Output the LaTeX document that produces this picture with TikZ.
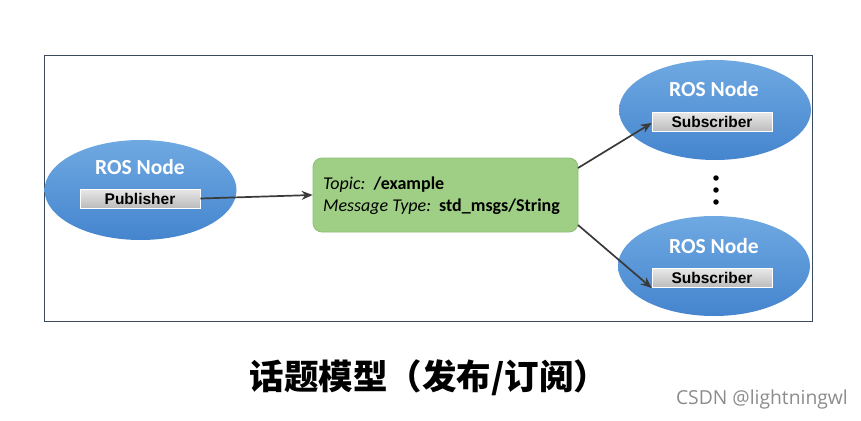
\documentclass[tikz,border=0pt]{standalone}
\usepackage{fontspec}
\setmainfont{Carlito}
\newfontfamily\arialf{Liberation Sans}
\newfontfamily\cjkf{Noto Sans CJK SC}
\newfontfamily\wmf{Open Sans}
\usetikzlibrary{shapes.geometric,arrows.meta,shadings}
\definecolor{frameC}{HTML}{3B4A5C}
\definecolor{ellTop}{HTML}{6FA9E2}
\definecolor{ellBot}{HTML}{4585CE}
\definecolor{greenF}{HTML}{9FCF85}
\definecolor{greenD}{HTML}{8DBE72}
\definecolor{boxT}{HTML}{E8E8E8}
\definecolor{boxB}{HTML}{BBBBBB}
\definecolor{arrC}{HTML}{3A3A3A}
\tikzset{
  rosnode/.style={ellipse, minimum width=192pt, minimum height=100pt, top color=ellTop, bottom color=ellBot, draw=none, inner sep=0pt},
  roslabel/.style={font=\fontsize{21.5}{21.5}\selectfont\bfseries, text=white, inner sep=0pt},
  rolebox/.style={minimum width=120pt, minimum height=19pt, top color=boxT, bottom color=boxB, draw=white, line width=0.6pt, font=\arialf\fontsize{15.5}{15.5}\selectfont\bfseries, inner sep=0pt},
  topicbox/.style={rounded corners=9pt, minimum width=265pt, minimum height=74pt, fill=greenF, draw=greenD, line width=0.8pt},
  topictext/.style={anchor=west, inner sep=0pt, font=\fontsize{18}{18}\selectfont},
  conn/.style={draw=arrC, line width=1.7pt, -{Stealth[length=11pt,width=9pt]}},
  dotc/.style={circle, fill=black, inner sep=0pt, minimum size=5.5pt}
}
\begin{document}
\begin{tikzpicture}[x=1pt,y=-1pt]
\useasboundingbox (0,0) rectangle (861,420);
\fill[white] (0,0) rectangle (861,420);
\draw[frameC, line width=1pt] (44,56) rectangle (812,321);

% left node
\node[rosnode] (pubnode) at (140.5,190) {};
\node[roslabel] (publab) at (140,167) {ROS Node};
\node[rolebox] (pub) at (140,198.5) {Publisher};

% topic box
\node[topicbox] (topic) at (445.5,195) {};
\node[topictext] (t1) at (323,185) {\itshape Topic:\ \ \upshape\bfseries /example};
\node[topictext] (t2) at (323,207) {\itshape Message Type:\ \ \upshape\bfseries std\_msgs/String};

% top right node
\node[rosnode] (sub1node) at (715,110) {};
\node[roslabel] (sub1lab) at (714,89) {ROS Node};
\node[rolebox] (sub1) at (712,122) {Subscriber};

% bottom right node
\node[rosnode] (sub2node) at (714,266) {};
\node[roslabel] (sub2lab) at (714,246) {ROS Node};
\node[rolebox] (sub2) at (712,278) {Subscriber};

% dots
\node[dotc] (d1) at (716,178) {};
\node[dotc] (d2) at (716,190) {};
\node[dotc] (d3) at (716,202) {};

% connectors
\coordinate (a1) at (578,168);
\coordinate (a2) at (578,225);
\draw[conn] (pub.east) -- (topic.west);
\draw[conn] (a1) -- ([yshift=-1pt]sub1.west);
\draw[conn] (a2) -- ([yshift=-10pt]sub2.west);

% caption
\node[font=\cjkf\fontsize{34.5}{34.5}\selectfont\bfseries, inner sep=0pt] (cap) at (429,378) {话题模型（发布/订阅）};
\node[anchor=east, font=\wmf\fontsize{19.3}{19.3}\selectfont, text=black!45, inner sep=0pt] (wm) at (848,399) {CSDN @lightningwl};
\end{tikzpicture}
\end{document}
